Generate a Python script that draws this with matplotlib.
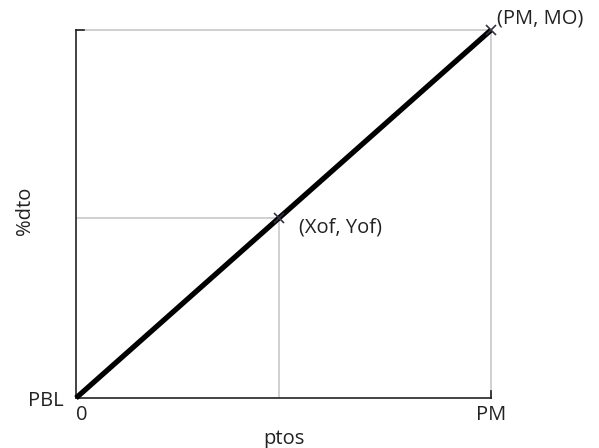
import matplotlib
matplotlib.use("Agg")
import matplotlib.pyplot as plt

# puntos de la recta
x_pts = [0, 0.49, 1]
y_pts = [0, 0.49, 1]
x_ticks = [0, 1]
x_tick_labels = ["0", "PM"]
y_ticks = [0]
y_tick_labels = ["PBL"]
point_labels = ["(Xof, Yof)", "(PM, MO)"]

txt = "#222222"
fs = 14.5
plt.rcParams['font.family'] = ['Open Sans', 'DejaVu Sans']

fig = plt.figure(figsize=(5.99, 4.48), dpi=100)
ax = fig.add_axes([0.1269, 0.1116, 0.8197 - 0.1269, 0.933 - 0.1116])

# guias grises
ax.plot([0, x_pts[1]], [y_pts[1], y_pts[1]], color="#c8c8c8", lw=1.2, zorder=1)
ax.plot([x_pts[1], x_pts[1]], [0, y_pts[1]], color="#c8c8c8", lw=1.2, zorder=1)
ax.plot([0, 1], [1, 1], color="#c8c8c8", lw=1.2, zorder=1, clip_on=False)
ax.plot([1, 1], [0, 1], color="#c8c8c8", lw=1.2, zorder=1, clip_on=False)
# pequenas marcas en las esquinas
ax.plot([0, 0.02], [1, 1], color="#222222", lw=1.2, clip_on=False)
ax.plot([1, 1], [0, 0.02], color="#222222", lw=1.2, clip_on=False)

ax.plot(x_pts, y_pts, color="black", lw=3.8, solid_capstyle="butt", zorder=3, clip_on=False)
ax.plot(x_pts[1:], y_pts[1:], linestyle="none", marker="x", ms=7, mew=1.2,
        color="#333344", zorder=4, clip_on=False)

ax.text(x_pts[1] + 0.048, y_pts[1] - 0.027, point_labels[0], color=txt, fontsize=fs,
        ha="left", va="center")
ax.text(x_pts[2] + 0.0145, y_pts[2] + 0.03, point_labels[1], color=txt, fontsize=fs,
        ha="left", va="center")

ax.set_xlim(0, 1)
ax.set_ylim(0, 1)
for s in ["top", "right"]:
    ax.spines[s].set_visible(False)
for s in ["left", "bottom"]:
    ax.spines[s].set_color("#222222")
    ax.spines[s].set_linewidth(1.2)

ax.set_xticks(x_ticks, x_tick_labels, fontsize=fs)
ax.set_yticks(y_ticks, y_tick_labels, fontsize=fs)
for lab in ax.get_xticklabels() + ax.get_yticklabels():
    lab.set_color(txt)
ax.get_xticklabels()[0].set_ha("left")
ax.tick_params(axis="x", length=0, pad=5)
ax.tick_params(axis="y", length=0, pad=9)
ax.set_xlabel("ptos", color=txt, fontsize=fs, labelpad=3)
ax.set_ylabel("%dto", color=txt, fontsize=fs)
ax.yaxis.set_label_coords(-0.1, 0.51)

fig.savefig("out.png", dpi=100)
